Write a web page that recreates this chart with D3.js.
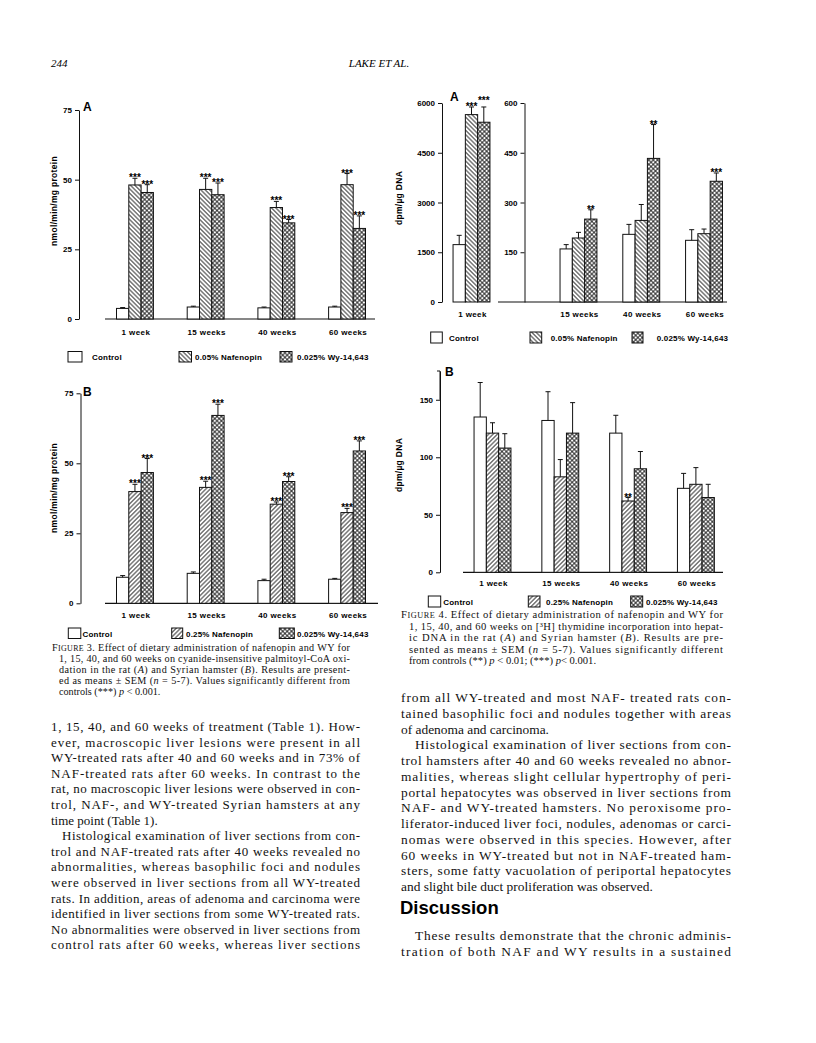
<!DOCTYPE html>
<html>
<head>
<meta charset="utf-8">
<script src="https://cdn.jsdelivr.net/npm/d3@7"></script>
<style>
  body { margin: 0; background: #fff; }
  svg { display: block; }
</style>
</head>
<body>
<svg id="page" width="816" height="1043"></svg>
<script>

// ---- data ----
var weeks = ["1 week", "15 weeks", "40 weeks", "60 weeks"];

var legend3a = ["Control", "0.05% Nafenopin", "0.025% Wy-14,643"];
var legend3b = ["Control", "0.25% Nafenopin", "0.025% Wy-14,643"];

// Fig 3A, rat, nmol/min/mg protein
var f3aControl = [3.8, 4.3, 4.0, 4.3];
var f3aControlErr = [0.3, 0.3, 0.3, 0.3];
var f3aNaf = [48.1, 46.5, 40.0, 48.2];
var f3aNafErr = [2.4, 4.0, 2.2, 4.0];
var f3aWy = [45.4, 44.6, 34.5, 32.5];
var f3aWyErr = [2.8, 4.2, 1.2, 4.5];
var f3aNafStars = ["***", "***", "***", "***"];
var f3aWyStars = ["***", "***", "***", "***"];

// Fig 3B, hamster, nmol/min/mg protein
var f3bControl = [9.3, 10.7, 8.1, 8.6];
var f3bControlErr = [0.6, 0.5, 0.5, 0.3];
var f3bNaf = [39.9, 41.4, 35.4, 32.4];
var f3bNafErr = [2.6, 2.2, 0.8, 1.5];
var f3bWy = [46.7, 67.1, 43.5, 54.4];
var f3bWyErr = [5.0, 4.0, 1.7, 3.6];
var f3bNafStars = ["***", "***", "***", "***"];
var f3bWyStars = ["***", "***", "***", "***"];

// Fig 4A, rat, dpm/ug DNA (1 week on its own scale)
var f4aControl = [1730, 160, 204, 186];
var f4aControlErr = [280, 13, 30, 32];
var f4aNaf = [5650, 193, 246, 206];
var f4aNafErr = [230, 17, 48, 14];
var f4aWy = [5420, 250, 433, 364];
var f4aWyErr = [460, 28, 102, 25];
var f4aNafStars = ["***", "", "", ""];
var f4aWyStars = ["***", "**", "**", "***"];

// Fig 4B, hamster, dpm/ug DNA
var f4bControl = [135, 132, 121, 73];
var f4bControlErr = [30, 25, 15.5, 13];
var f4bNaf = [121, 83, 62, 76.5];
var f4bNafErr = [9, 15, 3, 14.5];
var f4bWy = [108, 121, 90, 65];
var f4bWyErr = [12.5, 26.5, 15, 11.5];
var f4bNafStars = ["", "", "**", ""];
var f4bWyStars = ["", "", "", ""];

var noStars = ["", "", "", ""];

var ticks3 = [0, 25, 50, 75];
var ticks4aLeft = [0, 1500, 3000, 4500, 6000];
var ticks4aRight = [150, 300, 450, 600];
var ticks4b = [0, 50, 100, 150];

// ---- text ----
var caption3 = [
  "F~IGURE~ 3. Effect of dietary administration of nafenopin and WY for",
  "1, 15, 40, and 60 weeks on cyanide-insensitive palmitoyl-CoA oxi-",
  "dation in the rat (_A_) and Syrian hamster (_B_). Results are present-",
  "ed as means \u00b1 SEM (_n_ = 5-7). Values significantly different from",
  "controls (***) _p_ < 0.001.|"
];
var caption4 = [
  "F~IGURE~ 4. Effect of dietary administration of nafenopin and WY for",
  "1, 15, 40, and 60 weeks on [\u00b3H] thymidine incorporation into hepat-",
  "ic DNA in the rat (_A_) and Syrian hamster (_B_). Results are pre-",
  "sented as means \u00b1 SEM (_n_ = 5-7). Values significantly different",
  "from controls (**) _p_ < 0.01; (***) _p_< 0.001.|"
];
var bodyLeft = [
  "1, 15, 40, and 60 weeks of treatment (Table 1). How-",
  "ever, macroscopic liver lesions were present in all",
  "WY-treated rats after 40 and 60 weeks and in 73% of",
  "NAF-treated rats after 60 weeks. In contrast to the",
  "rat, no macroscopic liver lesions were observed in con-",
  "trol, NAF-, and WY-treated Syrian hamsters at any",
  "time point (Table 1).|",
  ">Histological examination of liver sections from con-",
  "trol and NAF-treated rats after 40 weeks revealed no",
  "abnormalities, whereas basophilic foci and nodules",
  "were observed in liver sections from all WY-treated",
  "rats. In addition, areas of adenoma and carcinoma were",
  "identified in liver sections from some WY-treated rats.",
  "No abnormalities were observed in liver sections from",
  "control rats after 60 weeks, whereas liver sections"
];
var bodyRight = [
  "from all WY-treated and most NAF- treated rats con-",
  "tained basophilic foci and nodules together with areas",
  "of adenoma and carcinoma.|",
  ">Histological examination of liver sections from con-",
  "trol hamsters after 40 and 60 weeks revealed no abnor-",
  "malities, whereas slight cellular hypertrophy of peri-",
  "portal hepatocytes was observed in liver sections from",
  "NAF- and WY-treated hamsters. No peroxisome pro-",
  "liferator-induced liver foci, nodules, adenomas or carci-",
  "nomas were observed in this species. However, after",
  "60 weeks in WY-treated but not in NAF-treated ham-",
  "sters, some fatty vacuolation of periportal hepatocytes",
  "and slight bile duct proliferation was observed.|"
];
var bodyDiscussion = [
  ">These results demonstrate that the chronic adminis-",
  "tration of both NAF and WY results in a sustained"
];

// ---- drawing ----
var svg = d3.select("#page");
var defs = svg.append("defs");
var sansBold = "'Liberation Sans', Arial, sans-serif";
var serif = "'Liberation Serif', 'Times New Roman', serif";

function makeHatch(id, angle, cross) {
  var s = 3.1;
  var p = defs.append("pattern")
    .attr("id", id)
    .attr("patternUnits", "userSpaceOnUse")
    .attr("width", s).attr("height", s)
    .attr("patternTransform", "rotate(" + angle + ")");
  p.append("rect").attr("width", s).attr("height", s).attr("fill", "#fff");
  p.append("line").attr("x1", s / 2).attr("y1", 0).attr("x2", s / 2).attr("y2", s)
    .attr("stroke", "#111").attr("stroke-width", 0.85);
  if (cross) {
    p.append("line").attr("x1", 0).attr("y1", s / 2).attr("x2", s).attr("y2", s / 2)
      .attr("stroke", "#111").attr("stroke-width", 0.85);
  }
}
makeHatch("hatchBack", -45, false);
makeHatch("hatchFwd", 45, false);
makeHatch("hatchCross", 45, true);

var barW = 12.3;

function yAxis(g, y, axisX, ticks) {
  var ax = g.append("g")
    .attr("transform", "translate(" + axisX + ",0)")
    .call(d3.axisLeft(y).tickValues(ticks).tickSize(4).tickSizeOuter(0).tickPadding(3).tickFormat(d3.format("d")));
  ax.attr("font-family", sansBold).attr("font-size", 8).attr("font-weight", "bold");
  ax.selectAll("line, path").attr("stroke", "#111").attr("stroke-width", 1);
  return ax;
}

function drawBars(g, x, y, series, groupIdx) {
  var sub = d3.scaleBand().domain(d3.range(series.length)).range([-barW * 1.5, barW * 1.5]);
  var recs = [];
  groupIdx.forEach(function (gi) {
    var prevCap = null;
    series.forEach(function (s, j) {
      var cx = x(weeks[gi]) + x.bandwidth() / 2 + sub(j) + barW / 2;
      var capY = y(s.values[gi] + s.errs[gi]);
      var starY = capY - 2;
      if (prevCap !== null && s.stars[gi] && Math.abs(prevCap - starY) < 4) starY -= 6;
      if (s.stars[gi]) prevCap = starY;
      recs.push({ w: weeks[gi], j: j, v: s.values[gi], e: s.errs[gi], fill: s.fill, star: s.stars[gi], cx: cx, capY: capY, starY: starY });
    });
  });

  g.selectAll("rect.bar").data(recs).enter().append("rect")
    .attr("class", "bar")
    .attr("x", function (d) { return d.cx - barW / 2; })
    .attr("y", function (d) { return y(d.v); })
    .attr("width", barW)
    .attr("height", function (d) { return y(0) - y(d.v); })
    .attr("fill", function (d) { return d.fill; })
    .attr("stroke", "#111").attr("stroke-width", 1);

  g.selectAll("line.err").data(recs).enter().append("line")
    .attr("class", "err")
    .attr("x1", function (d) { return d.cx; }).attr("x2", function (d) { return d.cx; })
    .attr("y1", function (d) { return y(d.v); }).attr("y2", function (d) { return d.capY; })
    .attr("stroke", "#111").attr("stroke-width", 1);

  g.selectAll("line.cap").data(recs).enter().append("line")
    .attr("class", "cap")
    .attr("x1", function (d) { return d.cx - 2.5; }).attr("x2", function (d) { return d.cx + 2.5; })
    .attr("y1", function (d) { return d.capY; }).attr("y2", function (d) { return d.capY; })
    .attr("stroke", "#111").attr("stroke-width", 1);

  g.selectAll("text.star").data(recs.filter(function (d) { return d.star; })).enter().append("text")
    .attr("class", "star")
    .attr("x", function (d) { return d.cx; })
    .attr("y", function (d) { return d.starY + 5; })
    .attr("text-anchor", "middle")
    .attr("font-family", sansBold).attr("font-weight", "bold").attr("font-size", 10)
    .text(function (d) { return d.star; });
}

function xLabels(g, x, groupIdx, labelY) {
  g.selectAll("text.xl").data(groupIdx.map(function (i) { return weeks[i]; })).enter().append("text")
    .attr("class", "xl")
    .attr("x", function (d) { return x(d) + x.bandwidth() / 2 + 1; })
    .attr("y", labelY)
    .attr("text-anchor", "middle")
    .attr("font-family", sansBold).attr("font-weight", "bold").attr("font-size", 8)
    .attr("letter-spacing", 0.4)
    .text(function (d) { return d; });
}

function legend(g, labels, fills, boxes, texts, boxY, boxH) {
  labels.forEach(function (lab, i) {
    g.append("rect")
      .attr("x", boxes[i][0]).attr("y", boxY)
      .attr("width", boxes[i][1]).attr("height", boxH)
      .attr("fill", fills[i]).attr("stroke", "#111").attr("stroke-width", 1);
    g.append("text")
      .attr("x", texts[i]).attr("y", boxY + boxH - 2)
      .attr("font-family", sansBold).attr("font-weight", "bold").attr("font-size", 8)
      .attr("letter-spacing", 0.2)
      .text(lab);
  });
}

function panelLetter(g, letter, x, y) {
  g.append("text").attr("x", x).attr("y", y)
    .attr("font-family", sansBold).attr("font-weight", "bold").attr("font-size", 12)
    .text(letter);
}

function yTitle(g, label, x, y) {
  g.append("text")
    .attr("transform", "translate(" + x + "," + y + ") rotate(-90)")
    .attr("text-anchor", "middle")
    .attr("font-family", sansBold).attr("font-weight", "bold").attr("font-size", 8.5)
    .attr("letter-spacing", 0.3)
    .text(label);
}

function baseline(g, y, x0, x1) {
  g.append("line").attr("x1", x0).attr("x2", x1).attr("y1", y(0)).attr("y2", y(0))
    .attr("stroke", "#111").attr("stroke-width", 1.2);
}

var white = "#fff", back = "url(#hatchBack)", fwd = "url(#hatchFwd)", cross = "url(#hatchCross)";
var all4 = [0, 1, 2, 3];

// Figure 3A
(function () {
  var g = svg.append("g");
  var y = d3.scaleLinear().domain([0, 75]).range([319, 110]);
  var x = d3.scaleBand().domain(weeks).range([99.6, 382.4]);
  yAxis(g, y, 79, ticks3);
  baseline(g, y, 105, 375);
  drawBars(g, x, y, [
    { values: f3aControl, errs: f3aControlErr, stars: noStars, fill: white },
    { values: f3aNaf, errs: f3aNafErr, stars: f3aNafStars, fill: back },
    { values: f3aWy, errs: f3aWyErr, stars: f3aWyStars, fill: cross }
  ], all4);
  xLabels(g, x, all4, 334.5);
  legend(g, legend3a, [white, back, cross], [[68, 14], [179, 12.5], [280, 12]], [92, 195, 297], 351.5, 10.5);
  panelLetter(g, "A", 83, 111);
  yTitle(g, "nmol/min/mg protein", 57, 201);
})();

// Figure 3B
(function () {
  var g = svg.append("g");
  var y = d3.scaleLinear().domain([0, 75]).range([603.3, 393.3]);
  var x = d3.scaleBand().domain(weeks).range([99.6, 382.4]);
  yAxis(g, y, 80.5, ticks3);
  baseline(g, y, 105, 378);
  drawBars(g, x, y, [
    { values: f3bControl, errs: f3bControlErr, stars: noStars, fill: white },
    { values: f3bNaf, errs: f3bNafErr, stars: f3bNafStars, fill: fwd },
    { values: f3bWy, errs: f3bWyErr, stars: f3bWyStars, fill: cross }
  ], all4);
  xLabels(g, x, all4, 618);
  legend(g, legend3b, [white, fwd, cross], [[68.3, 12.5], [171.7, 11], [279.3, 15]], [82.5, 186, 297], 628, 10.5);
  panelLetter(g, "B", 83, 396);
  yTitle(g, "nmol/min/mg protein", 57, 488);
})();

// Figure 4A: two panels
(function () {
  var g = svg.append("g");
  var yL = d3.scaleLinear().domain([0, 6000]).range([302, 103]);
  var yR = d3.scaleLinear().domain([0, 600]).range([302, 103]);
  var xL = d3.scaleBand().domain([weeks[0]]).range([440.1, 502.9]);
  var xR = d3.scaleBand().domain(weeks.slice(1)).range([547.1, 735.4]);
  yAxis(g, yL, 442, ticks4aLeft);
  yAxis(g, yR, 524.5, ticks4aRight);
  baseline(g, yR, 498, 727);
  var series = [
    { values: f4aControl, errs: f4aControlErr, stars: noStars, fill: white },
    { values: f4aNaf, errs: f4aNafErr, stars: f4aNafStars, fill: back },
    { values: f4aWy, errs: f4aWyErr, stars: f4aWyStars, fill: cross }
  ];
  drawBars(g.append("g"), xL, yL, series, [0]);
  drawBars(g.append("g"), xR, yR, series, [1, 2, 3]);
  xLabels(g.append("g"), xL, [0], 316.5);
  xLabels(g.append("g"), xR, [1, 2, 3], 316.5);
  legend(g, legend3a, [white, back, cross], [[430.7, 11.6], [530, 11.7], [632, 11]], [449, 550.7, 656.7], 332, 11);
  panelLetter(g, "A", 450, 101);
  yTitle(g, "dpm/\u00b5g DNA", 402, 198);
})();

// Figure 4B
(function () {
  var g = svg.append("g");
  var y = d3.scaleLinear().domain([0, 175]).range([572.3, 371]);
  var x = d3.scaleBand().domain(weeks).range([458.6, 729.8]);
  yAxis(g, y, 440, ticks4b);
  g.append("line").attr("x1", 437).attr("x2", 440).attr("y1", y(175)).attr("y2", y(175))
    .attr("stroke", "#111").attr("stroke-width", 1);
  g.append("line").attr("x1", 440).attr("x2", 440).attr("y1", y(175)).attr("y2", y(150))
    .attr("stroke", "#111").attr("stroke-width", 1);
  baseline(g, y, 463, 723);
  drawBars(g, x, y, [
    { values: f4bControl, errs: f4bControlErr, stars: noStars, fill: white },
    { values: f4bNaf, errs: f4bNafErr, stars: f4bNafStars, fill: fwd },
    { values: f4bWy, errs: f4bWyErr, stars: f4bWyStars, fill: cross }
  ], all4);
  xLabels(g, x, all4, 586);
  legend(g, legend3b, [white, fwd, cross], [[428.3, 12.4], [528.3, 11.7], [630.7, 12]], [443.3, 546, 646], 596, 11);
  panelLetter(g, "B", 445, 376);
  yTitle(g, "dpm/\u00b5g DNA", 402, 465);
})();

// ---- page text ----
function richText(sel, str) {
  var italic = false, small = false, buf = "";
  function flush() {
    if (!buf) return;
    var t = sel.append("tspan").text(buf);
    if (italic) t.attr("font-style", "italic");
    if (small) t.attr("font-size", "78%");
    buf = "";
  }
  for (var c of str) {
    if (c === "_") { flush(); italic = !italic; }
    else if (c === "~") { flush(); small = !small; }
    else buf += c;
  }
  flush();
}

function textBlock(lines, x0, x1, y0, dy, size, hang, indent) {
  lines.forEach(function (line, i) {
    var last = line.endsWith("|");
    var para = line.startsWith(">");
    var s = line.replace(/\|$/, "").replace(/^>/, "");
    var x = x0 + (para ? indent : 0) + (hang && i > 0 ? hang : 0);
    var t = svg.append("text")
      .attr("x", x).attr("y", y0 + i * dy)
      .attr("font-family", serif).attr("font-size", size)
      .attr("fill", "#111");
    richText(t, s);
    if (!last) t.attr("textLength", x1 - x).attr("lengthAdjust", "spacing");
  });
}

svg.append("text").attr("x", 51).attr("y", 67)
  .attr("font-family", serif).attr("font-style", "italic").attr("font-size", 11).text("244");
svg.append("text").attr("x", 379).attr("y", 67).attr("text-anchor", "middle")
  .attr("font-family", serif).attr("font-style", "italic").attr("font-size", 11).text("LAKE ET AL.");

textBlock(caption3, 52, 350, 651, 11, 10.2, 7, 0);
textBlock(caption4, 401, 723, 618, 11.6, 10.6, 8, 0);
textBlock(bodyLeft, 51, 360, 731, 15.6, 13, 0, 11);
textBlock(bodyRight, 401, 731, 702, 15.75, 13.4, 0, 14);

svg.append("text").attr("x", 400).attr("y", 914)
  .attr("font-family", sansBold).attr("font-weight", "bold").attr("font-size", 18.5)
  .text("Discussion");
textBlock(bodyDiscussion, 401, 731, 940, 15.5, 13.4, 0, 14);

</script>
</body>
</html>
